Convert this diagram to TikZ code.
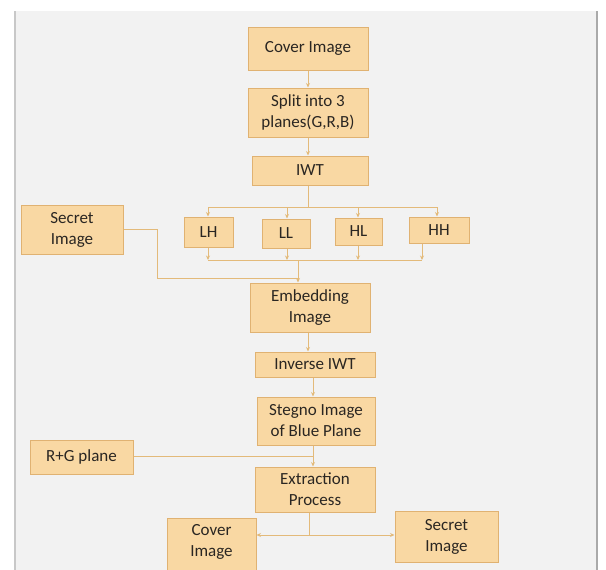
\documentclass[tikz,border=0pt]{standalone}
\usepackage{fontspec}
\setmainfont{Carlito}
\usetikzlibrary{arrows.meta}
\definecolor{bg}{HTML}{F2F2F2}
\definecolor{boxfill}{HTML}{F9D8A3}
\definecolor{boxline}{HTML}{E0B272}
\definecolor{conn}{HTML}{E3BA7A}
\definecolor{txt}{HTML}{2A2622}
\tikzset{
  fbox/.style={draw=boxline, line width=1pt, fill=boxfill, inner sep=0pt,
    align=center, text=txt, font=\fontsize{17}{21}\selectfont},
  conline/.style={draw=conn, line width=1pt},
  conarrow/.style={conline, -{Stealth[length=4.5pt,width=4pt]}},
}
\newcommand{\mybox}[7]{% name, x1, y1, x2, y2, text, extra
  \node[fbox, minimum width={(#4-#2)*1pt}, minimum height={(#5-#3)*1pt}, #7]
    (#1) at ({(#2+#4)/2},{(#3+#5)/2}) {#6};}
\begin{document}
\begin{tikzpicture}[x=1pt,y=-1pt]
\useasboundingbox (0,0) rectangle (606,570);
\clip (0,0) rectangle (606,570);
\fill[white] (0,0) rectangle (606,570);
\fill[bg] (15,11) rectangle (597,570);
\draw[draw={rgb,255:red,200;green,200;blue,200}, line width=2pt] (15,11) -- (15,570);
\draw[draw={rgb,255:red,170;green,170;blue,170}, line width=1.5pt] (597,11) -- (597,570);

\mybox{cov}{248}{27}{368}{70}{Cover Image}{}
\mybox{spl}{248}{88}{368}{137}{Split into 3\\planes(G,R,B)}{}
\mybox{iwt}{252}{156}{368}{185}{IWT}{}
\mybox{lh}{184}{217}{233}{247}{LH}{}
\mybox{ll}{262}{219}{310}{248}{LL}{}
\mybox{hl}{335}{218}{382}{245}{HL}{}
\mybox{hh}{409}{217}{469}{243}{HH}{}
\mybox{sec}{21}{205}{123}{254}{Secret\\Image}{}
\mybox{emb}{250}{283}{370}{332}{Embedding\\Image}{}
\mybox{inv}{255}{352}{375}{377}{Inverse IWT}{}
\mybox{stg}{257}{397}{375}{445}{Stegno Image\\of Blue Plane}{}
\mybox{rg}{30}{440}{133}{474}{R+G plane}{}
\mybox{ext}{255}{467}{375}{512}{Extraction\\Process}{}
\mybox{covb}{167}{518}{256}{574}{Cover\\Image}{text depth=12pt}
\mybox{secb}{395}{511}{498}{562}{Secret\\Image}{}

\coordinate (b1) at (308,207);
\coordinate (bl) at (208,207);
\coordinate (br) at (437,207);
\coordinate (c1) at (208,260);
\coordinate (c2) at (422,260);
\coordinate (cm) at (298,260);
\coordinate (s1) at (157,229);
\coordinate (s2) at (157,278);
\coordinate (s3) at (298,278);
\coordinate (r1) at (313,456);
\coordinate (e1) at (309,535);

\draw[conarrow] (cov.south -| 308,0) -- (spl.north -| 308,0);
\draw[conarrow] (spl.south -| 308,0) -- (iwt.north -| 308,0);
\draw[conline] (iwt.south -| b1) -- (b1);
\draw[conline] (bl) -- (br);
\draw[conarrow] (bl) -- (lh.north -| bl);
\draw[conarrow] (287,207) -- (ll.north -| 287,0);
\draw[conarrow] (358,207) -- (hl.north -| 358,0);
\draw[conarrow] (br) -- (hh.north -| br);

\draw[conarrow] (lh.south -| c1) -- (c1);
\draw[conarrow] (ll.south -| 287,0) -- (287,260);
\draw[conarrow] (hl.south -| 358,0) -- (358,260);
\draw[conarrow] (hh.south -| c2) -- (c2);
\draw[conline] (c1) -- (c2);
\draw[conarrow] (cm) -- (emb.north -| cm);
\draw[conline] (sec.east |- s1) -- (s1) -- (s2) -- (s3);

\draw[conarrow] (emb.south -| 308,0) -- (inv.north -| 308,0);
\draw[conarrow] (inv.south -| 313,0) -- (stg.north -| 313,0);
\draw[conarrow] (stg.south -| 313,0) -- (ext.north -| 313,0);
\draw[conline] (rg.east |- r1) -- (r1);

\draw[conline] (ext.south -| e1) -- (e1);
\draw[conarrow] (e1) -- (covb.east |- e1);
\draw[conarrow] (e1) -- (secb.west |- e1);
\end{tikzpicture}
\end{document}
